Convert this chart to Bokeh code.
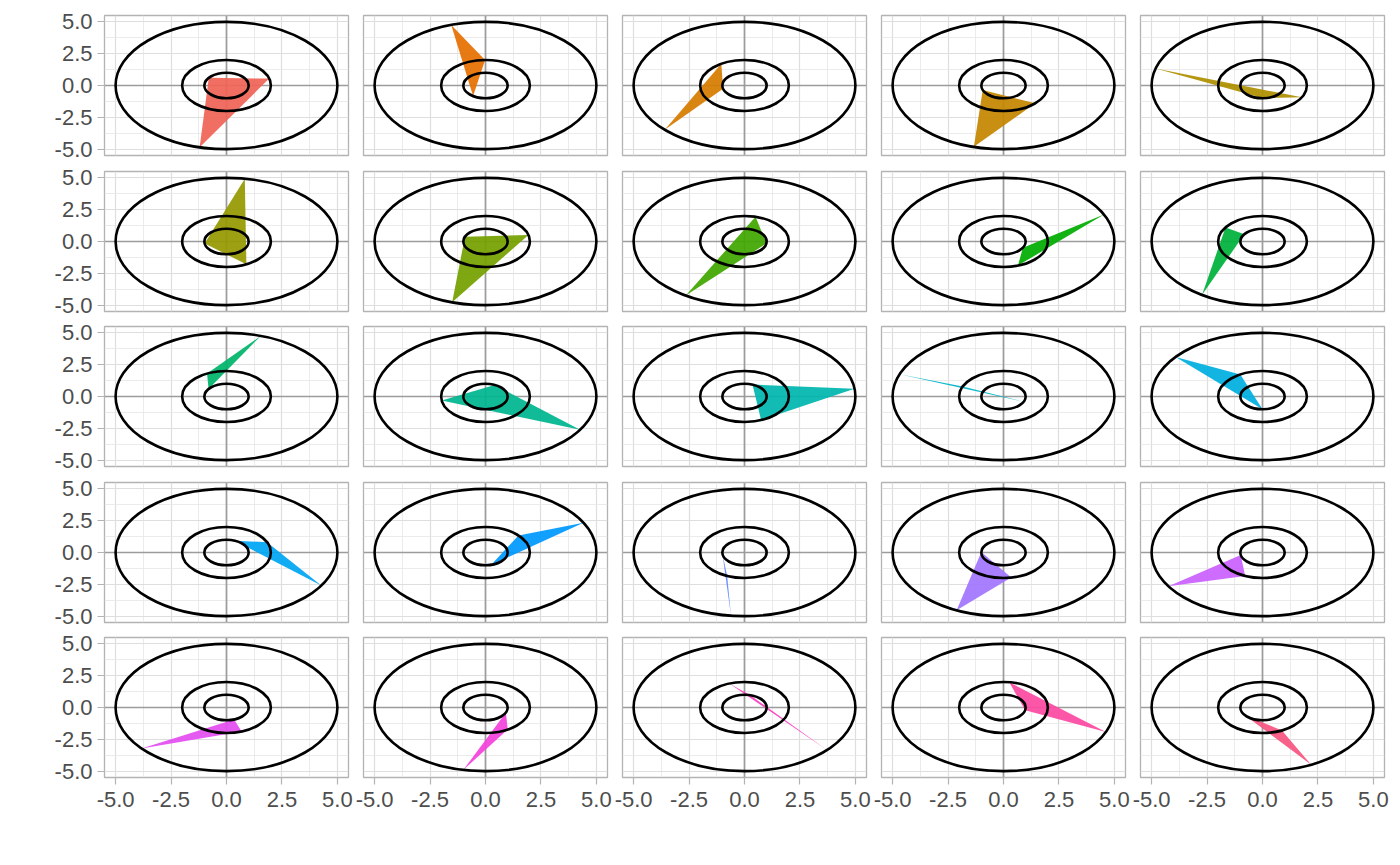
import math
from bokeh.plotting import figure
from bokeh.layouts import gridplot
from bokeh.models import FixedTicker, Grid, LinearAxis, PrintfTickFormatter, Range1d, Span
from bokeh.embed import file_html
from bokeh.resources import INLINE

# ---------------- data ----------------
ring_radii = [1, 2, 5]
# angle (degrees) of the triangle vertex lying on each ring, one value per panel (row-major)
angle_r1 = [143, 236, 195, 200.6, 272,
            189, 157.5, 351.6, 331, 145,
            144, 65.5, 69, 336, 270,
            68, 285, 184, 178, 191,
            290, 337, 75, 347, 219]
angle_r2 = [15.7, 90.5, 121.5, 315.6, 332.5,
            296.6, 14.7, 75.6, 289, 146.5,
            116, 189, 292, 157, 120,
            24, 42, 247, 280, 247,
            290, 300, 110, 82.5, 296]
angle_r5 = [256, 108, 224, 254.5, 164.5,
            80.5, 252.5, 238, 25, 237,
            72, 328.5, 7, 159.5, 141.6,
            328.7, 27.9, 263, 245, 212,
            220, 258.5, 318, 337.4, 296]
major_ticks = [-5.0, -2.5, 0.0, 2.5, 5.0]
minor_ticks = [-3.75, -1.25, 1.25, 3.75]
axis_limits = (-5.5, 5.5)

n_panels = len(angle_r1)
n_cols = 5


def hcl_hex(h, c=100.0, l=65.0):
    hr = math.radians(h)
    U = c * math.cos(hr)
    V = c * math.sin(hr)
    Xn, Yn, Zn = 95.047, 100.0, 108.883
    Y = Yn * ((l + 16) / 116) ** 3 if l > 8 else Yn * l / 903.3
    den = Xn + 15 * Yn + 3 * Zn
    un, vn = 4 * Xn / den, 9 * Yn / den
    u = U / (13 * l) + un
    v = V / (13 * l) + vn
    X = 9.0 * Y * u / (4 * v)
    Z = -X / 3 - 5 * Y + 3 * Y / v
    X, Y, Z = X / 100, Y / 100, Z / 100
    rgb = [3.240479 * X - 1.537150 * Y - 0.498535 * Z,
           -0.969256 * X + 1.875992 * Y + 0.041556 * Z,
           0.055648 * X - 0.204043 * Y + 1.057311 * Z]
    out = []
    for ch in rgb:
        ch = min(max(ch, 0.0), 1.0)
        ch = 12.92 * ch if ch <= 0.0031308 else 1.055 * ch ** (1 / 2.4) - 0.055
        out.append(int(round(min(max(ch, 0.0), 1.0) * 255)))
    return "#%02X%02X%02X" % tuple(out)


hues = [15 + i * (345.6 / (n_panels - 1)) for i in range(n_panels)]
colors = [hcl_hex(h, c=112, l=60) for h in hues]

FONT = "Liberation Sans"
LABEL_SIZE = "22px"
LABEL_COLOR = "#4D4D4D"
TICK_COLOR = "#B3B3B3"

n_rows = n_panels // n_cols
figs = []
for i in range(n_panels):
    row, col = divmod(i, n_cols)
    top_b = 15 if row == 0 else 8
    if row == n_rows - 1:
        bot_b = 50
    else:
        bot_b = 8 if row % 2 == 0 else 7
    left_b = 104 if col == 0 else 9
    right_b = 6
    p = figure(frame_width=244, frame_height=140,
               x_range=Range1d(*axis_limits), y_range=Range1d(*axis_limits),
               x_axis_location=None, y_axis_location=None,
               output_backend="svg", toolbar_location=None,
               min_border_left=left_b, min_border_right=right_b,
               min_border_top=top_b, min_border_bottom=bot_b,
               background_fill_color="white", border_fill_color="white")
    p.center = []
    p.outline_line_color = "#B3B3B3"
    p.outline_line_width = 1.3

    for dim in (0, 1):
        g = Grid(dimension=dim,
                 ticker=FixedTicker(ticks=major_ticks, minor_ticks=minor_ticks),
                 grid_line_color="#DEDEDE", grid_line_width=1.2,
                 minor_grid_line_color="#E6E6E6", minor_grid_line_width=0.8)
        p.add_layout(g, "center")

    p.add_layout(Span(location=0, dimension="width", line_color="#9C9C9C",
                      line_width=1.7, level="underlay"))
    p.add_layout(Span(location=0, dimension="height", line_color="#9C9C9C",
                      line_width=1.7, level="underlay"))

    angs = [angle_r1[i], angle_r2[i], angle_r5[i]]
    xs = [r * math.cos(math.radians(a)) for r, a in zip(ring_radii, angs)]
    ys = [r * math.sin(math.radians(a)) for r, a in zip(ring_radii, angs)]
    p.patch(xs, ys, fill_color=colors[i], fill_alpha=0.93, line_color=None)

    p.ellipse(x=[0] * len(ring_radii), y=[0] * len(ring_radii),
              width=[2 * r for r in ring_radii], height=[2 * r for r in ring_radii],
              fill_color=None, line_color="black", line_width=2.6)

    def style_axis(ax, standoff):
        ax.ticker = FixedTicker(ticks=major_ticks)
        ax.formatter = PrintfTickFormatter(format="%.1f")
        ax.axis_line_color = None
        ax.major_tick_line_color = TICK_COLOR
        ax.major_tick_line_width = 1.2
        ax.major_tick_in = 0
        ax.major_tick_out = 7
        ax.minor_tick_line_color = None
        ax.major_label_text_font = FONT
        ax.major_label_text_font_size = LABEL_SIZE
        ax.major_label_text_color = LABEL_COLOR
        ax.major_label_standoff = standoff

    if col == 0:
        ay = LinearAxis()
        style_axis(ay, 5)
        p.add_layout(ay, "left")
    if row == n_rows - 1:
        ax = LinearAxis()
        style_axis(ax, 7)
        p.add_layout(ax, "below")
    figs.append(p)

grid = gridplot(figs, ncols=n_cols, toolbar_location=None)

open("out.html", "w").write(file_html(grid, INLINE))
